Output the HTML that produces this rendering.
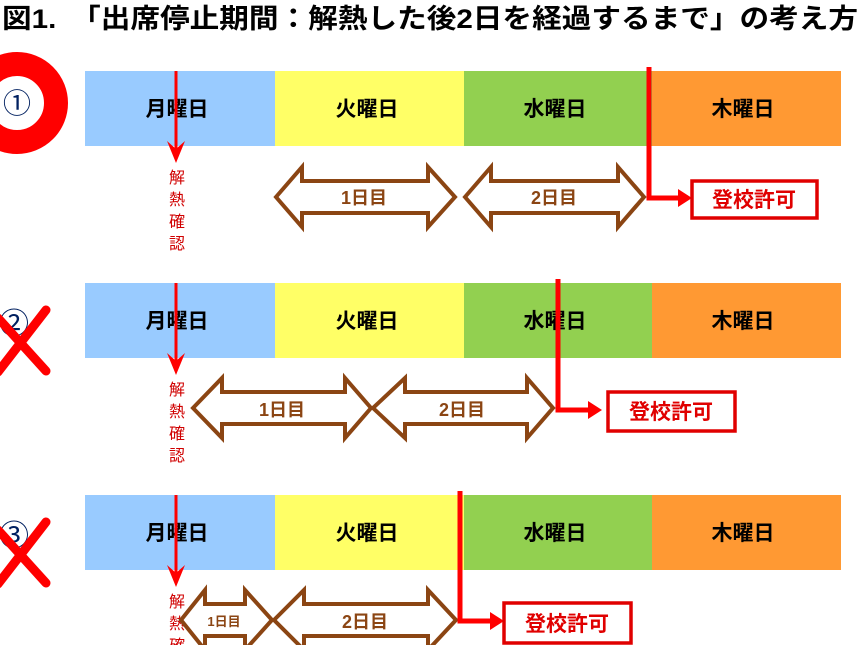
<!DOCTYPE html>
<html><head><meta charset="utf-8"><style>
body{margin:0;background:#fff}
svg{display:block}
text{font-family:"Liberation Sans","Noto Sans CJK JP",sans-serif}
</style></head><body>
<svg width="862" height="645" viewBox="0 0 862 645" xmlns="http://www.w3.org/2000/svg">
<text x="2" y="28" font-size="27" font-weight="bold" fill="#000" textLength="856" lengthAdjust="spacingAndGlyphs">図1.　「出席停止期間：解熱した後2日を経過するまで」の考え方</text>
<defs>
<g id="bars">
<rect x="85" y="0" width="190" height="75" fill="#99cbff"/>
<rect x="275" y="0" width="189" height="75" fill="#ffff66"/>
<rect x="464" y="0" width="188" height="75" fill="#92d050"/>
<rect x="652" y="0" width="189" height="75" fill="#ff9933"/>
<g font-size="21" font-weight="bold" fill="#000" text-anchor="middle">
<text x="177" y="45">月曜日</text><text x="367" y="45">火曜日</text><text x="555" y="45">水曜日</text><text x="743" y="45">木曜日</text>
</g>
<line x1="176" y1="0" x2="176" y2="80" stroke="#f00" stroke-width="3"/>
<polygon points="167,70 176,92 185,70 176,78" fill="#f00"/>
<g font-size="16" fill="#d00000" text-anchor="middle">
<text x="177" y="112">解</text><text x="177" y="134">熱</text><text x="177" y="156">確</text><text x="177" y="178">認</text>
</g>
</g>
</defs>
<circle cx="17" cy="103" r="39" fill="none" stroke="#f00" stroke-width="24"/>
<text x="17" y="113" font-size="28" text-anchor="middle" fill="#002060">①</text>
<text x="14" y="334" font-size="30" text-anchor="middle" fill="#002060">②</text>
<text x="14" y="546" font-size="30" text-anchor="middle" fill="#002060">③</text>
<g stroke="#f00" stroke-width="9" stroke-linecap="round">
<line x1="-2" y1="318" x2="46" y2="371"/><line x1="46" y1="310" x2="-2" y2="372"/>
<line x1="-2" y1="530" x2="46" y2="583"/><line x1="46" y1="522" x2="-2" y2="584"/>
</g>
<use href="#bars" y="71"/>
<use href="#bars" y="283"/>
<use href="#bars" y="495"/>
<g fill="#fff" stroke="#8b4513" stroke-width="4" stroke-linejoin="miter">
<polygon points="276,197 302,167 302,181 428,181 428,167 455,197 428,227 428,213 302,213 302,227"/>
<polygon points="465,197 491,167 491,181 618,181 618,167 644,197 618,227 618,213 491,213 491,227"/>
<polygon points="193,408 222,378 222,392 345,392 345,378 371,408 345,438 345,424 222,424 222,438"/>
<polygon points="373,408 405,378 405,392 527,392 527,378 553,408 527,438 527,424 405,424 405,438"/>
<polygon points="181,620 205,590 205,604 245,604 245,590 272,620 245,650 245,636 205,636 205,650"/>
<polygon points="274,620 304,590 304,604 428,604 428,590 456,620 428,650 428,636 304,636 304,650"/>
</g>
<g font-size="18" font-weight="bold" fill="#8b4513" text-anchor="middle">
<text x="364" y="204">1日目</text><text x="554" y="204">2日目</text>
<text x="282" y="416">1日目</text><text x="462" y="416">2日目</text>
<text x="224" y="626" font-size="13">1日目</text><text x="365" y="628">2日目</text>
</g>
<g fill="none" stroke="#f00" stroke-width="5">
<polyline points="649,67 649,198 680,198"/>
<polyline points="558,279 558,410 590,410"/>
<polyline points="460,491 460,621 492,621"/>
</g>
<g fill="#f00">
<polygon points="678,189 692,198 678,207"/>
<polygon points="588,401 602,410 588,419"/>
<polygon points="490,612 504,621 490,630"/>
</g>
<g fill="#fff" stroke="#e00000" stroke-width="3.5">
<rect x="692" y="181" width="125" height="37"/>
<rect x="608" y="392" width="127" height="39"/>
<rect x="504" y="603" width="127" height="40"/>
</g>
<g font-size="21" font-weight="bold" fill="#e00000" text-anchor="middle">
<text x="754" y="207">登校許可</text><text x="671" y="419">登校許可</text><text x="567" y="631">登校許可</text>
</g>
</svg>
</body></html>
